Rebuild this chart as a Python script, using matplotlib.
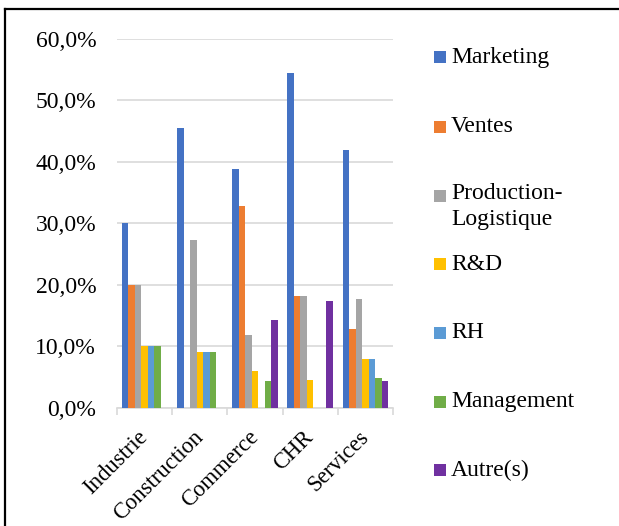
import matplotlib
matplotlib.use("Agg")
import matplotlib.pyplot as plt
from matplotlib.lines import Line2D
from matplotlib.patches import Rectangle
import numpy as np

plt.rcParams['font.family'] = ['Liberation Serif', 'DejaVu Serif']

categories = ["Industrie", "Construction", "Commerce", "CHR", "Services"]
series_names = ["Marketing", "Ventes", "Production-\nLogistique", "R&D", "RH", "Management", "Autre(s)"]
marketing = [30.0, 45.5, 38.9, 54.5, 42.0]
ventes = [20.0, 0.0, 32.8, 18.2, 12.8]
production = [20.0, 27.3, 11.9, 18.2, 17.7]
rd = [10.0, 9.1, 5.9, 4.5, 8.0]
rh = [10.0, 9.1, 0.0, 0.0, 8.0]
management = [10.0, 9.1, 4.4, 0.0, 4.8]
autres = [0.0, 0.0, 14.2, 17.4, 4.3]
yticks = [0, 10, 20, 30, 40, 50, 60]

series = [marketing, ventes, production, rd, rh, management, autres]
colors = ["#4472C4", "#ED7D31", "#A5A5A5", "#FFC000", "#5B9BD5", "#70AD47", "#7030A0"]

W, H = 619, 526
fig = plt.figure(figsize=(W / 100, H / 100), dpi=100)
ax = fig.add_axes([117 / W, (H - 407.7) / H, (393 - 117) / W, (407.7 - 39) / H])

x = np.arange(len(categories))
w = 0.1177
for j, (vals, c) in enumerate(zip(series, colors)):
    ax.bar(x + (j - 3) * w, vals, width=w, color=c, edgecolor='none', zorder=3)

ax.set_xlim(-0.5, len(categories) - 0.5)
ax.set_ylim(0, 60)
ax.set_yticks(yticks)
ax.set_yticklabels([f"{v:.1f}%".replace('.', ',') for v in yticks], fontsize=17)
ax.tick_params(axis='y', length=0, pad=15)
ax.yaxis.grid(True, color='#D9D9D9', linewidth=1.2, zorder=0)
ax.set_axisbelow(True)
for s in ['left', 'right', 'top']:
    ax.spines[s].set_visible(False)
ax.spines['bottom'].set_color('#D9D9D9')
ax.spines['bottom'].set_linewidth(1.2)

ax.set_xticks(np.arange(-0.5, len(categories), 1.0), minor=False)
ax.set_xticklabels([])
ax.tick_params(axis='x', which='major', length=5, color='#D9D9D9', width=1.2)
ax.set_xticks(x, minor=True)
ax.set_xticklabels(categories, minor=True, fontsize=16.3, rotation=45,
                   ha='right', va='center', rotation_mode='anchor')
ax.tick_params(axis='x', which='minor', length=0, pad=19)

# legend
ymarks = [57, 127, 196, 264, 333, 402, 470]
for name, c, ym in zip(series_names, colors, ymarks):
    fig.patches.append(Rectangle((434 / W, (H - ym - 6) / H), 12 / W, 12 / H,
                                 transform=fig.transFigure, facecolor=c, edgecolor='none'))
    if '\n' in name:
        fig.text(451 / W, (H - ym + 13) / H, name, fontsize=17, ha='left', va='top',
                 linespacing=1.3)
    else:
        fig.text(451 / W, (H - ym) / H, name, fontsize=17, ha='left', va='center')

# border lines
fig.lines.append(Line2D([5 / W, 1], [(H - 9) / H, (H - 9) / H], transform=fig.transFigure, color='black', linewidth=1.6))
fig.lines.append(Line2D([5 / W, 5 / W], [0, (H - 9) / H], transform=fig.transFigure, color='black', linewidth=1.6))

fig.savefig("out.png", dpi=100)
